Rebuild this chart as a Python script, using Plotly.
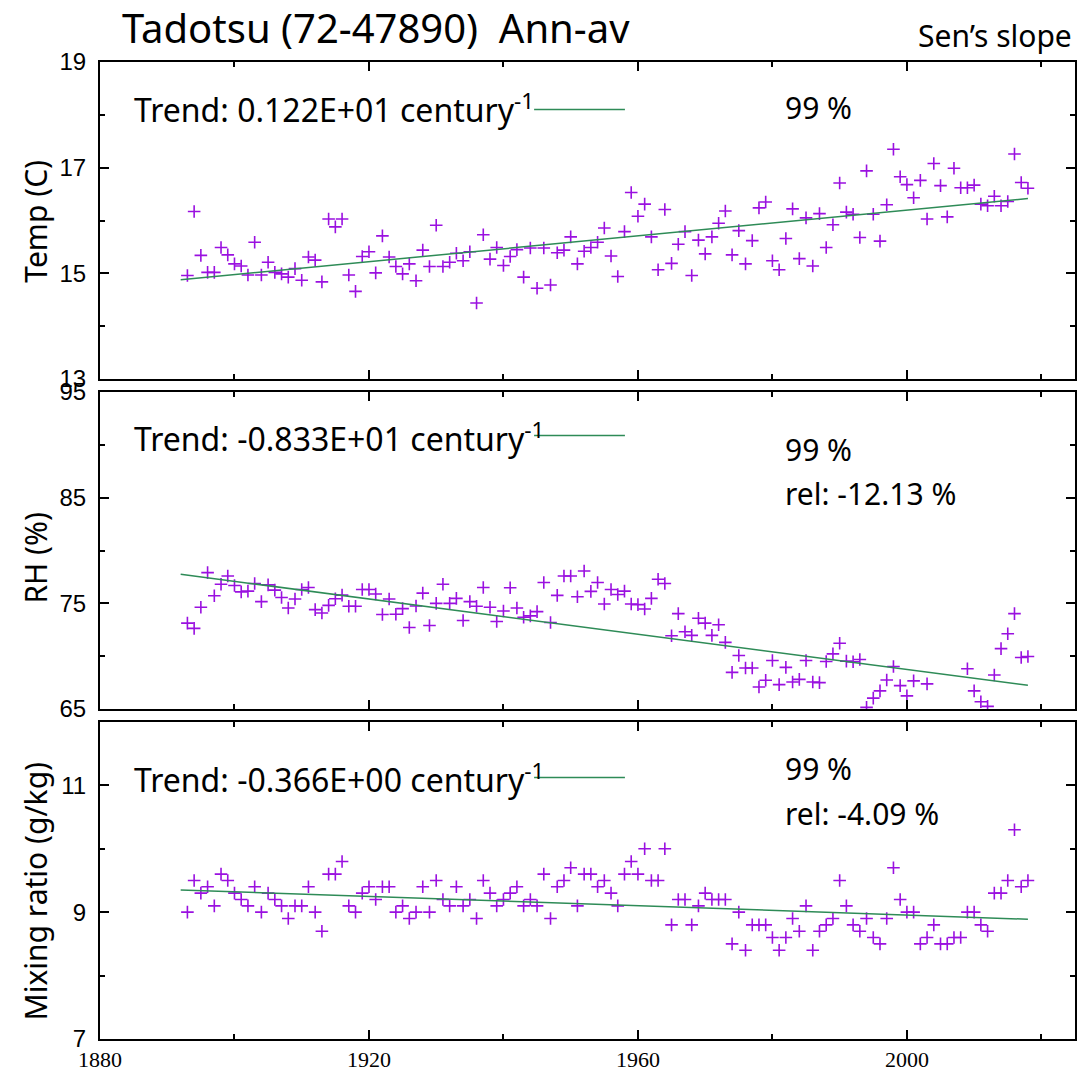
import plotly.graph_objects as go

YEARS = list(range(1893, 2019))

TEMP = [14.96, 16.17, 15.34, 15.02, 15.02, 15.49, 15.35, 15.18, 15.14, 14.97,
        15.59, 14.97, 15.21, 15.02, 14.99, 14.93, 15.09, 14.87, 15.31, 15.25,
        14.84, 16.03, 15.88, 16.03, 14.97, 14.66, 15.32, 15.41, 15.01, 15.71,
        15.31, 15.13, 14.99, 15.18, 14.86, 15.44, 15.13, 15.91, 15.13, 15.21,
        15.38, 15.24, 15.41, 14.44, 15.73, 15.27, 15.49, 15.15, 15.32, 15.45,
        14.93, 15.48, 14.72, 15.48, 14.78, 15.39, 15.44, 15.69, 15.18, 15.42,
        15.49, 15.59, 15.86, 15.33, 14.94, 15.79, 16.53, 16.08, 16.31, 15.69,
        15.07, 16.21, 15.19, 15.55, 15.79, 14.96, 15.63, 15.37, 15.69, 15.95,
        16.18, 15.35, 15.81, 15.18, 15.62, 16.24, 16.35, 15.24, 15.07, 15.66,
        16.22, 15.28, 16.05, 15.14, 16.13, 15.49, 15.92, 16.71, 16.16, 16.12,
        15.68, 16.94, 16.12, 15.61, 16.30, 17.35, 16.83, 16.68, 16.43, 16.76,
        16.03, 17.08, 16.66, 16.07, 16.99, 16.62, 16.62, 16.67, 16.31, 16.28,
        16.46, 16.28, 16.36, 17.26, 16.72, 16.61]

RH = [73.13, 72.63, 74.63, 77.91, 75.72, 76.81, 77.59, 76.69, 76.09, 76.16,
      76.88, 75.16, 76.75, 76.25, 75.56, 74.56, 75.41, 76.31, 76.50, 74.41,
      74.09, 74.81, 75.44, 75.78, 74.72, 74.72, 76.31, 76.31, 75.88, 73.94,
      75.41, 73.97, 74.50, 72.72, 74.75, 75.97, 72.91, 75.00, 76.81, 75.00,
      75.47, 73.37, 75.16, 74.72, 76.50, 74.63, 73.28, 74.28, 76.47, 74.56,
      73.69, 73.81, 74.22, 76.97, 73.19, 75.75, 77.59, 77.59, 75.63, 78.06,
      76.13, 76.97, 74.94, 76.31, 75.84, 76.16, 74.94, 74.88, 74.47, 75.47,
      77.28, 76.88, 71.94, 74.03, 72.31, 71.97, 73.59, 73.13, 71.97, 72.97,
      71.31, 68.47, 70.06, 68.88, 68.88, 67.09, 67.72, 69.59, 67.31, 68.94,
      67.56, 67.81, 69.59, 67.56, 67.50, 69.50, 70.22, 71.22, 69.53, 69.47,
      69.69, 65.16, 66.03, 66.72, 67.75, 69.03, 67.22, 66.25, 67.66, None,
      67.38, None, None, None, None, None, 68.81, 66.72, 65.69, 65.25,
      68.22, 70.72, 72.13, 74.03, 69.88, 69.97]

MR = [9.0, 9.5, 9.3, 9.4, 9.1, 9.6, 9.5, 9.3, 9.2, 9.1,
      9.4, 9.0, 9.3, 9.2, 9.1, 8.9, 9.1, 9.1, 9.4, 9.0,
      8.7, 9.6, 9.6, 9.8, 9.1, 9.0, 9.3, 9.4, 9.2, 9.4,
      9.4, 9.0, 9.1, 8.9, 9.0, 9.4, 9.0, 9.5, 9.2, 9.1,
      9.4, 9.1, 9.2, 8.9, 9.5, 9.3, 9.1, 9.2, 9.3, 9.4,
      9.1, 9.2, 9.1, 9.6, 8.9, 9.4, 9.5, 9.7, 9.1, 9.6,
      9.6, 9.4, 9.5, 9.3, 9.1, 9.6, 9.8, 9.6, 10.0, 9.5,
      9.5, 10.0, 8.8, 9.2, 9.2, 8.8, 9.1, 9.3, 9.2, 9.2,
      9.2, 8.5, 9.0, 8.4, 8.8, 8.8, 8.8, 8.6, 8.4, 8.6,
      8.9, 8.7, 9.1, 8.4, 8.7, 8.8, 8.9, 9.5, 9.1, 8.8,
      8.7, 8.9, 8.6, 8.5, 8.9, 9.7, 9.2, 9.0, 9.0, 8.5,
      8.6, 8.8, 8.5, 8.5, 8.6, 8.6, 9.0, 9.0, 8.8, 8.7,
      9.3, 9.3, 9.5, 10.3, 9.4, 9.5]

# Sen's slope trends (per century) and trend-line value at start year
TREND_SLOPE = [1.22, -8.33, -0.366]
TREND_START = [14.88, 77.75, 9.35]
TREND_LABEL = ["0.122E+01", "-0.833E+01", "-0.366E+00"]
SIGNIF = ["99 %", "99 %", "99 %"]
REL = [None, "rel: -12.13 %", "rel: -4.09 %"]
Y_TITLES = ["Temp (C)", "RH (%)", "Mixing ratio (g/kg)"]
Y_RANGES = [[13, 19], [65, 95], [7, 12]]
Y_DTICK = [2, 10, 2]
Y_MINOR = [1, 5, 1]
X_TICKS = [1880, 1920, 1960, 2000]

SERIES = [TEMP, RH, MR]
W, H = 1084, 1079
L, R, T, B = 100, 7, 62, 31
PH = H - T - B  # 986
panel_px = [(62, 382), (395, 715), (728, 1048)]

def dom(top, bot):
    return [(H - B - bot) / PH, (H - B - top) / PH]

PURPLE = "#9a10e0"
GREEN = "#2e8b57"
TXT = dict(family="Noto Sans", size=30, color="black")
TREND_TXT = dict(family="Noto Sans", size=32, color="black")

fig = go.Figure()
trend_x = [YEARS[0] - 1, YEARS[-1]]
for i, ys in enumerate(SERIES):
    xa = "x" if i == 0 else f"x{i+1}"
    ya = "y" if i == 0 else f"y{i+1}"
    fig.add_trace(go.Scatter(x=YEARS, y=ys, mode="markers", xaxis=xa, yaxis=ya,
                             marker=dict(symbol="cross-thin", size=9,
                                         line=dict(color=PURPLE, width=1.6)),
                             showlegend=False, cliponaxis=True))
    trend_y = [TREND_START[i] + TREND_SLOPE[i] * (x - trend_x[0]) / 100 for x in trend_x]
    fig.add_trace(go.Scatter(x=trend_x, y=trend_y, mode="lines", xaxis=xa, yaxis=ya,
                             line=dict(color=GREEN, width=1.5), showlegend=False))

axis_common = dict(showline=True, linewidth=2, linecolor="black", mirror="allticks",
                   ticks="inside", ticklen=9, tickwidth=1.5, tickcolor="black",
                   showgrid=False, zeroline=False)

layout = dict(width=W, height=H, margin=dict(l=L, r=R, t=T, b=B),
              plot_bgcolor="white", paper_bgcolor="white", showlegend=False)

for i in range(3):
    top, bot = panel_px[i]
    sx = "" if i == 0 else str(i + 1)
    layout[f"xaxis{sx}"] = dict(axis_common, range=[1880, 2025], domain=[0, 1],
                                anchor=f"y{sx}", tickmode="array", tickvals=X_TICKS,
                                showticklabels=(i == 2),
                                tickfont=dict(family="Liberation Sans Narrow", size=22, color="black"),
                                minor=dict(dtick=20, tick0=1880, ticks="inside", ticklen=5,
                                           tickwidth=1.5, tickcolor="black", showgrid=False))
    layout[f"yaxis{sx}"] = dict(axis_common, range=Y_RANGES[i], domain=dom(top, bot),
                                anchor=f"x{sx}", dtick=Y_DTICK[i], tick0=Y_RANGES[i][0],
                                tickfont=dict(family="Arial, Liberation Sans, sans-serif", size=24, color="black"),
                                ticklabelstandoff=7,
                                minor=dict(dtick=Y_MINOR[i], ticks="inside", ticklen=5,
                                           tickwidth=1.5, tickcolor="black", showgrid=False))
fig.update_layout(**layout)

ann = []
shapes = []
trend_y_px = [108, 440, 785]
line_y_px = [110, 439, 784]
sig_y_px = [108, 453, 775]
rel_y_px = [None, 497, 820]
ytitle_px = [223, 562, 899]

def px_to_paper_y(py):
    return (H - B - py) / PH

def px_to_paper_x(px):
    return (px - L) / (W - L - R)

for i in range(3):
    ann.append(dict(text=f"Trend: {TREND_LABEL[i]} century<sup>-1</sup>", xref="paper", yref="paper",
                    x=px_to_paper_x(132), y=px_to_paper_y(trend_y_px[i]), xanchor="left",
                    yanchor="middle", showarrow=False, font=TREND_TXT))
    ann.append(dict(text=SIGNIF[i], xref="paper", yref="paper", x=px_to_paper_x(784),
                    y=px_to_paper_y(sig_y_px[i]), xanchor="left", yanchor="middle",
                    showarrow=False, font=TXT))
    if REL[i]:
        ann.append(dict(text=REL[i], xref="paper", yref="paper", x=px_to_paper_x(784),
                        y=px_to_paper_y(rel_y_px[i]), xanchor="left", yanchor="middle",
                        showarrow=False, font=TXT))
    ann.append(dict(text=Y_TITLES[i], xref="paper", yref="paper", x=px_to_paper_x(35),
                    y=px_to_paper_y(ytitle_px[i]), xanchor="center", yanchor="middle",
                    textangle=-90, showarrow=False, font=TXT))
    shapes.append(dict(type="line", xref="paper", yref="paper",
                       x0=px_to_paper_x(535), x1=px_to_paper_x(626),
                       y0=px_to_paper_y(line_y_px[i]), y1=px_to_paper_y(line_y_px[i]),
                       line=dict(color=GREEN, width=1.5)))

ann.append(dict(text="Tadotsu (72-47890)  Ann-av", xref="paper", yref="paper",
                x=px_to_paper_x(120), y=px_to_paper_y(27), xanchor="left", yanchor="middle",
                showarrow=False, font=dict(family="Noto Sans", size=40, color="black")))
ann.append(dict(text="Sen’s slope", xref="paper", yref="paper",
                x=px_to_paper_x(1076), y=px_to_paper_y(35), xanchor="right", yanchor="middle",
                showarrow=False, font=dict(family="Noto Sans", size=30, color="black")))

fig.update_layout(annotations=ann, shapes=shapes)
fig.write_html("out.html")
